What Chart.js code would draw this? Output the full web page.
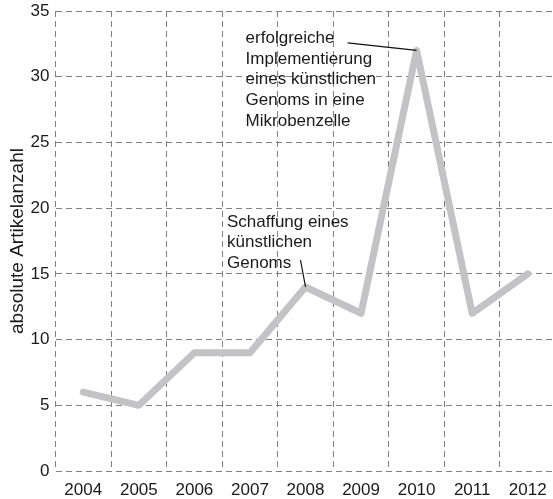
<!DOCTYPE html>
<html>
<head>
<meta charset="utf-8">
<script src="https://cdn.jsdelivr.net/npm/chart.js@4.4.0/dist/chart.umd.min.js"></script>
<style>
  html, body { margin: 0; padding: 0; background: #fff; overflow: hidden; }
  #wrap { width: 560px; height: 499px; }
</style>
</head>
<body>
<div id="wrap"><canvas id="chart" width="560" height="499"></canvas></div>
<script>
// ---- data ----
const years = ['2004', '2005', '2006', '2007', '2008', '2009', '2010', '2011', '2012'];
const articles = [6, 5, 9, 9, 14, 12, 32, 12, 15];
const yTitle = 'absolute Artikelanzahl';

// annotations (text lines, attached to a year)
const noteGenomYear = '2008';
const noteGenomText = ['Schaffung eines', 'künstlichen', 'Genoms'];
const noteCellYear = '2010';
const noteCellText = ['erfolgreiche', 'Implementierung', 'eines künstlichen', 'Genoms in eine', 'Mikrobenzelle'];

const FONT = '"Liberation Sans", Arial, Helvetica, sans-serif';
const TXT = '#1a1a1a';

// dessine les textes et les traits de rappel
const notesPlugin = {
  id: 'notes',
  afterDatasetsDraw(chart) {
    const ctx = chart.ctx;
    const meta = chart.getDatasetMeta(0);
    const at = (year) => meta.data[years.indexOf(year)];
    const items = [
      { p: at(noteCellYear), lines: noteCellText, tx: -171, ty: -12, lx: -69, ly: -7.5 },
      { p: at(noteGenomYear), lines: noteGenomText, tx: -78.5, ty: -65, lx: -5, ly: -27 }
    ];
    ctx.save();
    ctx.font = '17px ' + FONT;
    ctx.fillStyle = TXT;
    ctx.textBaseline = 'middle';
    ctx.textAlign = 'left';
    items.forEach(it => {
      it.lines.forEach((s, i) => {
        ctx.fillText(s, it.p.x + it.tx, it.p.y + it.ty + i * 20.6);
      });
      ctx.beginPath();
      ctx.strokeStyle = '#111';
      ctx.lineWidth = 1.2;
      ctx.moveTo(it.p.x + it.lx, it.p.y + it.ly);
      ctx.lineTo(it.p.x, it.p.y);
      ctx.stroke();
    });
    ctx.restore();
  }
};

const gridStyle = { color: '#808080', lineWidth: 1, drawTicks: false };

const config = {
  type: 'line',
  data: {
    labels: years,
    datasets: [{
      data: articles,
      borderColor: '#c3c3c6',
      borderWidth: 7,
      borderCapStyle: 'round',
      borderJoinStyle: 'round',
      pointRadius: 0,
      tension: 0,
      fill: false
    }]
  },
  options: {
    responsive: false,
    animation: false,
    devicePixelRatio: 1,
    layout: { padding: { left: 0, right: 4.5, top: 11, bottom: 0 } },
    plugins: { legend: { display: false }, tooltip: { enabled: false } },
    scales: {
      x: {
        offset: true,
        grid: Object.assign({ offset: true }, gridStyle),
        border: { display: false, dash: [6, 4] },
        ticks: { color: TXT, font: { family: FONT, size: 17 }, padding: 9, maxRotation: 0 },
        afterFit(s) { s.height = 28; s.paddingLeft = 0; s.paddingRight = 0; }
      },
      y: {
        min: 0,
        max: 35,
        grid: gridStyle,
        border: { display: false, dash: [6, 4] },
        ticks: { stepSize: 5, color: TXT, font: { family: FONT, size: 17 }, padding: 6 },
        title: {
          display: true,
          text: yTitle,
          color: TXT,
          font: { family: FONT, size: 19 },
          padding: { top: 6, bottom: 0 }
        },
        afterFit(s) { s.width = 55.5; s.paddingTop = 0; s.paddingBottom = 0; }
      }
    }
  },
  plugins: [notesPlugin]
};

const myChart = new Chart(document.getElementById('chart').getContext('2d'), config);
</script>
</body>
</html>
